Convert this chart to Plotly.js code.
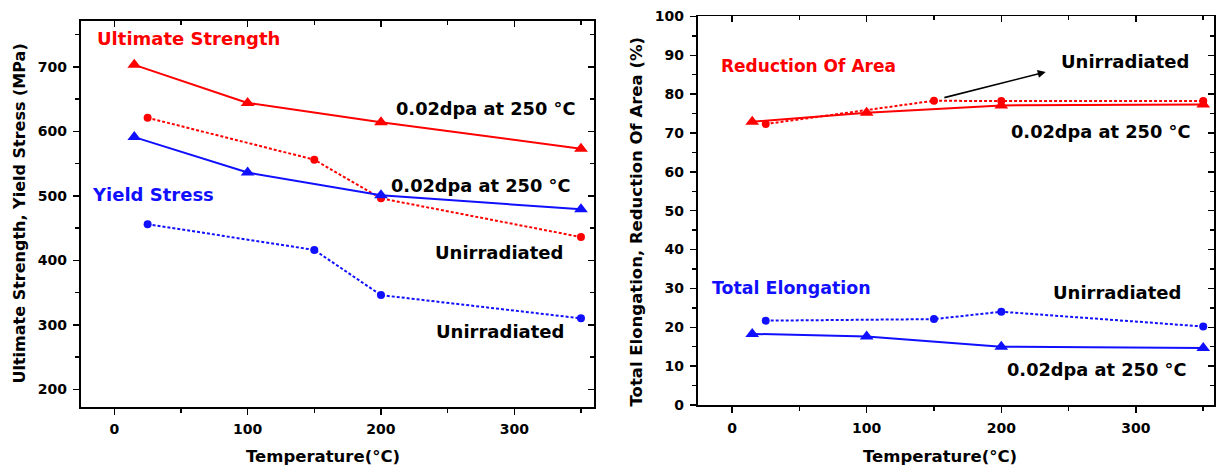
<!DOCTYPE html>
<html><head><meta charset="utf-8">
<script src="https://cdn.plot.ly/plotly-3.0.1.min.js"></script>
<style>html,body{margin:0;padding:0;background:#fff}#chart{width:1218px;height:469px}</style>
</head><body><div id="chart"></div>
<script>
// ---- Data ----
// Left panel: Ultimate Strength, Yield Stress (MPa) vs Temperature (°C)
const tempIrr = [15, 100, 200, 350];
const tempUnirr = [25, 150, 200, 350];
const ultIrr = [703, 644, 614, 573];
const ultUnirr = [621, 556, 496, 436];
const yieldIrr = [591, 536, 501, 479];
const yieldUnirr = [456, 416, 346, 310];
// Right panel: Total Elongation, Reduction Of Area (%) vs Temperature (°C)
const raIrr = [72.9, 75.2, 77.1, 77.3];
const raUnirr = [72.3, 78.3, 78.2, 78.2];
const elIrr = [18.3, 17.6, 15.0, 14.7];
const elUnirr = [21.7, 22.1, 24.0, 20.2];

const labelIrr = '0.02dpa at 250 °C';
const labelUnirr = 'Unirradiated';

// ---- Styling ----
const W = 1218, H = 469;
const F = 'DejaVu Sans, Verdana, sans-serif';
const RED = '#ff0000', BLUE = '#1010ff';
const px = v => v / W, py = v => 1 - v / H;

function series(x, y, color, irr, xa, ya) {
  return {
    x: x, y: y, xaxis: xa, yaxis: ya, type: 'scatter', mode: 'lines+markers',
    line: {color: color, width: 2, dash: irr ? 'solid' : '3px,2px'},
    marker: {color: color, symbol: irr ? 'triangle-up' : 'circle', size: irr ? 12 : 8},
    showlegend: false, hoverinfo: 'x+y'
  };
}

const traces = [
  series(tempUnirr, ultUnirr, RED, false, 'x', 'y'),
  series(tempUnirr, yieldUnirr, BLUE, false, 'x', 'y'),
  series(tempIrr, ultIrr, RED, true, 'x', 'y'),
  series(tempIrr, yieldIrr, BLUE, true, 'x', 'y'),
  series(tempUnirr, raUnirr, RED, false, 'x2', 'y2'),
  series(tempUnirr, elUnirr, BLUE, false, 'x2', 'y2'),
  series(tempIrr, raIrr, RED, true, 'x2', 'y2'),
  series(tempIrr, elIrr, BLUE, true, 'x2', 'y2'),
  // empty traces so the mirrored (inside-tick) axes are created
  {x: [], y: [], xaxis: 'x3', yaxis: 'y', showlegend: false, hoverinfo: 'skip'},
  {x: [], y: [], xaxis: 'x', yaxis: 'y3', showlegend: false, hoverinfo: 'skip'},
  {x: [], y: [], xaxis: 'x4', yaxis: 'y2', showlegend: false, hoverinfo: 'skip'},
  {x: [], y: [], xaxis: 'x2', yaxis: 'y4', showlegend: false, hoverinfo: 'skip'}
];

const tickFont = {family: F, size: 14, color: '#000', weight: 'bold'};
function axis(extra, dtick, minorDtick, inside) {
  return Object.assign({
    showline: true, linecolor: '#000', linewidth: 1.8,
    ticks: inside ? 'inside' : 'outside', ticklen: 6, tickwidth: 1.5, tickcolor: '#000',
    tick0: 0, dtick: dtick,
    minor: {ticks: inside ? 'inside' : 'outside', ticklen: 4, tickwidth: 1.5, tickcolor: '#000', dtick: minorDtick, showgrid: false},
    showgrid: false, zeroline: false, tickfont: tickFont, fixedrange: true,
    showticklabels: !inside, ticklabelstandoff: 3
  }, extra);
}

const dL = [px(80.7), px(594.3)], dLy = [py(406.7), py(21)];
const dR = [px(697.7), px(1214)], dRy = [py(405), py(16.4)];
const rL = [-25.2, 360], rLy = [173, 771];
const rR = [-25.5, 358], rRy = [0, 100];

const layout = {
  width: W, height: H,
  margin: {l: 0, r: 0, t: 0, b: 0},
  paper_bgcolor: '#fff', plot_bgcolor: '#fff',
  showlegend: false,
  xaxis: axis({domain: dL, range: rL, anchor: 'y'}, 100, 50, false),
  yaxis: axis({domain: dLy, range: rLy, anchor: 'x'}, 100, 50, false),
  xaxis3: axis({range: rL, overlaying: 'x', anchor: 'y', side: 'top'}, 100, 50, true),
  yaxis3: axis({range: rLy, overlaying: 'y', anchor: 'x', side: 'right'}, 100, 50, true),
  xaxis2: axis({domain: dR, range: rR, anchor: 'y2'}, 100, 50, false),
  yaxis2: axis({domain: dRy, range: rRy, anchor: 'x2'}, 10, 5, false),
  xaxis4: axis({range: rR, overlaying: 'x2', anchor: 'y2', side: 'top'}, 100, 50, true),
  yaxis4: axis({range: rRy, overlaying: 'y2', anchor: 'x2', side: 'right'}, 10, 5, true),
  annotations: []
};

function note(text, x, y, xanchor, color, size, angle) {
  return {text: text, xref: 'paper', yref: 'paper', x: px(x), y: py(y),
    xanchor: xanchor, yanchor: 'middle', showarrow: false, textangle: angle || 0,
    font: {family: F, size: size, color: color, weight: 'bold'}};
}

layout.annotations.push(
  // left panel
  note('Ultimate Strength', 95, 39, 'left', RED, 18),
  note(labelIrr, 577, 109, 'right', '#000', 17.8),
  note(labelIrr, 572, 185.5, 'right', '#000', 17.8),
  note('Yield Stress', 90, 194, 'left', BLUE, 18),
  note(labelUnirr, 564.5, 252.5, 'right', '#000', 18),
  note(labelUnirr, 565.5, 331, 'right', '#000', 18),
  // right panel
  note('Reduction Of Area', 719, 65.5, 'left', RED, 17),
  note(labelUnirr, 1191, 61, 'right', '#000', 18),
  note(labelIrr, 1192, 131.5, 'right', '#000', 17.8),
  note('Total Elongation', 710, 288, 'left', BLUE, 17.4),
  note(labelUnirr, 1183, 292.5, 'right', '#000', 18),
  note(labelIrr, 1188, 369, 'right', '#000', 17.8),
  // axis titles
  note('Temperature(°C)', 323, 456, 'center', '#000', 16.5),
  note('Temperature(°C)', 940, 456, 'center', '#000', 16.5),
  note('Ultimate Strength, Yield Stress (MPa)', 19, 213.5, 'center', '#000', 16, -90),
  note('Total Elongation, Reduction Of Area (%)', 635.5, 221, 'center', '#000', 16.5, -90),
  // arrow pointing to the unirradiated reduction-of-area curve label
  {text: '', xref: 'x2', yref: 'y2', axref: 'x2', ayref: 'y2',
   x: 233, y: 85.7, ax: 156.6, ay: 79.0, showarrow: true,
   arrowhead: 2, arrowsize: 1, arrowwidth: 1.6, arrowcolor: '#000'}
);

Plotly.newPlot('chart', traces, layout, {staticPlot: true, displayModeBar: false});
</script>
</body></html>
